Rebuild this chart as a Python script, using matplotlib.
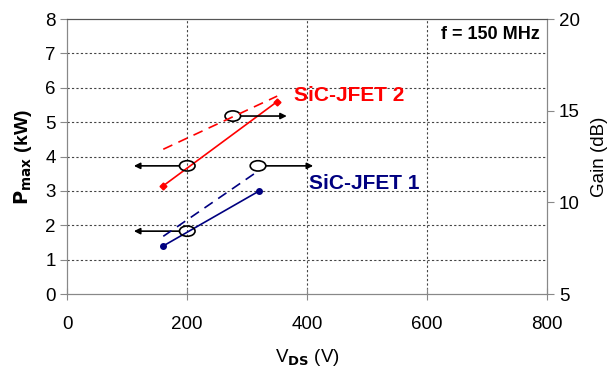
import matplotlib.pyplot as plt
from matplotlib.patches import Ellipse

plt.rcParams['font.family'] = ['Liberation Sans', 'DejaVu Sans']

# data
vds_2 = [160, 350]
pmax_2 = [3.15, 5.6]
gain_2 = [12.9, 15.8]

vds_1 = [160, 320]
pmax_1 = [1.4, 3.0]
gain_1 = [8.15, 11.75]

RED = '#FF0000'
NAVY = '#000080'

fig = plt.figure(figsize=(6.16, 3.68), dpi=100)
ax = fig.add_axes([0.1093, 0.201, 0.7787, 0.747])
ax2 = ax.twinx()

# Pmax (solid, left axis)
ax.plot(vds_2, pmax_2, color=RED, lw=1.2, marker='D', ms=3.5, zorder=3)
ax.plot(vds_1, pmax_1, color=NAVY, lw=1.2, marker='o', ms=4, zorder=3)

# gain (dashed, right axis)
ax2.plot(vds_2, gain_2, color=RED, lw=1.2, ls=(0, (6, 4)))
ax2.plot(vds_1, gain_1, color=NAVY, lw=1.2, ls=(0, (6, 4)))

ax.set_xlim(0, 800)
ax.set_ylim(0, 8)
ax2.set_ylim(5, 20)
ax.set_xticks([0, 200, 400, 600, 800])
ax.set_yticks(range(0, 9))
ax2.set_yticks([5, 10, 15, 20])

# dotted grid
for y in range(1, 8):
    ax.axhline(y, color='#444444', lw=0.8, ls=(0, (2, 2)), zorder=0)
for x in [200, 400, 600]:
    ax.axvline(x, color='#444444', lw=0.8, ls=(0, (2, 2)), zorder=0)

for a in (ax, ax2):
    for s in ['left', 'right', 'bottom']:
        a.spines[s].set_color('#888888')
    a.spines['top'].set_color('#555555')
ax.tick_params(axis='y', direction='out', length=5, color='#888888', labelsize=13.5)
ax.tick_params(axis='x', direction='inout', length=8, color='#888888', labelsize=13.5, pad=12)
ax2.tick_params(axis='y', direction='out', length=5, color='#888888', labelsize=13.5)

ax.set_xlabel(r'V$_{\mathbf{DS}}$ (V)', fontsize=13.5, labelpad=10)
ax.set_ylabel(r'$\mathbf{P_{max}}$ (kW)', fontsize=14, fontweight='bold', labelpad=8)
ax2.set_ylabel('Gain (dB)', fontsize=13.5, labelpad=8)

# ellipses marking each curve with an arrow to its axis
circles = [(200, 3.73, 111), (276, 5.18, 366), (318, 3.73, 410), (200, 1.83, 111)]
for cx, cy, tip in circles:
    ax.add_patch(Ellipse((cx, cy), 26, 0.3, fill=False, ec='black', lw=1.2, zorder=4))
    start = cx - 13 if tip < cx else cx + 13
    ax.annotate('', xy=(tip, cy), xytext=(start, cy),
                arrowprops=dict(arrowstyle='-|>', color='black', lw=1.2,
                                mutation_scale=9, shrinkA=0, shrinkB=0), zorder=4)

ax.text(378, 5.78, 'SiC-JFET 2', color=RED, fontsize=15, fontweight='bold', ha='left', va='center')
ax.text(403, 3.23, 'SiC-JFET 1', color=NAVY, fontsize=15, fontweight='bold', ha='left', va='center')
ax.text(788, 7.55, 'f = 150 MHz', fontsize=13, fontweight='bold', ha='right', va='center')

fig.savefig('out.png', dpi=100)
